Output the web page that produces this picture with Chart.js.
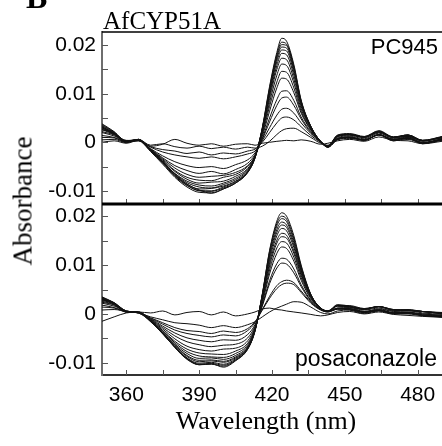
<!DOCTYPE html>
<html>
<head>
<meta charset="utf-8">
<script src="https://cdn.jsdelivr.net/npm/chart.js@4.4.1/dist/chart.umd.min.js"></script>
<style>
  body { margin: 0; background: #fff; }
  #wrap { position: relative; width: 442px; height: 446px; overflow: hidden; background: #fff; }
  canvas { position: absolute; left: 0; }
  .txt { position: absolute; white-space: nowrap; line-height: 1; color: #000; }
  .serif { font-family: "Liberation Serif", "Times New Roman", serif; }
  .sans { font-family: "Liberation Sans", Arial, sans-serif; }
</style>
</head>
<body>
<div id="wrap">
  <canvas id="topChart" width="442" height="205" style="top:0;width:442px;height:205px"></canvas>
  <canvas id="botChart" width="442" height="242" style="top:204px;width:442px;height:242px"></canvas>
  <div class="txt serif" style="left:26px;top:-19px;font-size:32px;font-weight:bold">B</div>
  <div class="txt serif" style="left:103px;top:8px;font-size:25px">AfCYP51A</div>
  <div class="txt sans" style="right:4px;top:36px;font-size:22px">PC945</div>
  <div class="txt sans" style="right:5px;top:347px;font-size:23px">posaconazole</div>
  <div class="txt serif" style="left:266px;top:408px;font-size:26px;transform:translateX(-50%)">Wavelength (nm)</div>
  <div class="txt serif" style="left:23px;top:201px;font-size:27px;transform:translate(-50%,-50%) rotate(-90deg)">Absorbance</div>
</div>
<script>
// wavelength grid (nm) shared by every spectrum
const wavelengths = [350,355,360,365,370,375,380,385,390,395,400,405,410,413,416,419,422,424,426,429,432,436,440,443,447,452,458,464,470,476,482,490];

// axis ticks
const xTicks = [360,375,390,405,420,435,450,465,480];
const xTickLabels = ['360','','390','','420','','450','','480'];
const yTicks = [-0.01,-0.005,0,0.005,0.01,0.015,0.02];
const yTickLabels = ['-0.01','','0','','0.01','','0.02'];

// PC945 titration, difference spectra in mAbs
const pc1  = [0.0,0.3,-0.2,0.4,-0.8,-0.4,0.6,-0.2,-0.6,-0.3,-0.8,-0.4,-0.3,-0.6,-0.2,0.0,0.2,0.3,0.4,0.3,0.5,0.2,-0.4,-0.2,0.3,0.6,0.2,1.1,0.4,0.3,-0.3,0.2];
const pc2  = [0.5,0.6,-0.1,0.6,-0.6,-0.3,-0.9,-1.2,-0.8,-1.3,-1.0,-1.4,-1.0,-1.2,-0.8,0.2,1.6,2.4,2.8,2.9,2.2,1.0,-0.2,-0.6,0.8,1.0,0.4,1.6,0.5,1.1,0.0,0.7];
const pc3  = [1.0,0.9,0.0,0.3,-0.9,-1.5,-1.8,-2.3,-2.0,-2.6,-2.2,-2.4,-1.8,-1.4,0.0,2.0,4.0,5.0,5.2,4.6,3.2,1.4,0.0,-0.7,1.2,1.5,0.9,2.1,1.0,1.2,0.3,1.1];
const pc4  = [1.4,1.0,0.1,0.5,-1.0,-2.0,-2.6,-3.0,-3.3,-3.0,-3.4,-3.0,-2.4,-1.8,0.3,3.0,5.6,6.8,7.0,6.0,4.0,1.8,0.1,-0.8,0.5,0.8,0.5,1.5,0.3,0.6,-0.2,0.4];
const pc5  = [2.0,1.3,0.2,0.6,-1.3,-2.8,-4.0,-4.8,-5.2,-5.0,-5.4,-4.6,-3.6,-2.2,0.6,4.2,7.6,9.1,9.3,7.6,4.8,2.0,0.2,-0.8,1.3,1.7,1.0,2.2,1.1,1.5,0.4,1.1];
const pc6  = [2.2,1.5,0.0,0.4,-1.4,-3.2,-4.8,-5.8,-6.4,-6.0,-6.5,-5.6,-4.3,-2.5,0.8,5.0,8.8,10.5,10.6,8.6,5.2,2.2,0.1,-1.0,0.6,0.9,0.4,1.6,0.3,0.8,-0.2,0.5];
const pc7  = [2.6,1.6,0.3,0.5,-1.5,-3.4,-5.3,-6.6,-7.2,-7.0,-6.8,-6.2,-4.8,-2.8,1.2,6.4,11.2,13.2,13.0,10.2,6.0,2.5,0.2,-0.9,1.4,1.6,1.1,2.2,1.0,1.5,0.4,1.0];
const pc8  = [2.8,1.7,0.1,0.6,-1.6,-3.6,-5.8,-7.2,-7.8,-7.9,-7.2,-6.6,-5.0,-2.8,1.6,7.4,12.4,14.6,14.4,11.2,6.4,2.6,0.1,-1.0,0.7,1.1,0.4,1.6,0.6,0.8,-0.1,0.6];
const pc9  = [3.0,1.8,0.2,0.4,-1.5,-3.8,-6.0,-7.6,-8.4,-8.2,-8.0,-7.0,-5.4,-2.9,2.0,8.2,13.8,16.1,15.8,12.2,6.9,2.8,0.2,-0.9,1.3,1.5,1.1,2.0,1.0,1.4,0.2,1.1];
const pc10 = [2.6,1.9,0.3,0.6,-1.7,-4.0,-6.4,-8.0,-8.8,-9.0,-8.4,-7.4,-5.6,-3.0,2.2,9.0,15.0,17.3,17.0,13.0,7.4,2.9,0.1,-1.0,0.6,1.0,0.5,1.5,0.5,0.9,-0.2,0.6];
const pc11 = [3.4,2.0,0.1,0.5,-1.6,-4.1,-6.5,-8.3,-9.2,-9.4,-8.7,-7.7,-5.8,-3.0,2.5,9.6,15.8,18.3,18.0,13.8,7.8,3.0,0.2,-0.8,1.5,1.8,1.2,2.4,1.1,1.5,0.4,1.2];
const pc12 = [3.0,1.7,0.4,0.3,-1.8,-4.3,-6.8,-8.6,-9.6,-9.5,-9.0,-8.0,-6.0,-3.1,2.6,10.0,16.6,19.0,18.8,14.4,8.0,3.1,0.1,-0.9,0.8,1.0,0.5,1.6,0.6,1.0,-0.2,0.5];
const pc13 = [3.6,2.1,0.2,0.6,-1.7,-4.2,-7.0,-8.9,-9.9,-10.0,-9.2,-8.1,-6.1,-3.2,2.7,10.4,17.2,19.6,19.4,14.9,8.3,3.2,0.2,-1.0,1.2,1.6,1.1,2.2,1.0,1.3,0.3,1.0];
const pc14 = [3.2,1.9,0.3,0.4,-1.9,-4.5,-7.2,-9.2,-10.3,-10.4,-9.6,-8.4,-6.2,-3.2,2.8,10.8,17.6,20.1,19.9,15.3,8.4,3.3,0.1,-0.9,0.7,1.1,0.4,1.5,0.6,0.8,-0.3,0.6];
const pc15 = [3.8,2.2,0.1,0.5,-1.6,-4.0,-6.8,-8.8,-10.0,-10.1,-9.4,-8.3,-6.1,-3.1,2.9,11.2,18.0,20.6,20.2,15.6,8.5,3.2,0.2,-0.8,1.4,1.6,1.1,2.3,1.0,1.5,0.3,0.9];
const pc16 = [3.2,1.8,0.2,0.5,-1.6,-4.0,-6.6,-8.6,-9.8,-10.5,-9.6,-8.4,-6.2,-3.2,3.0,11.5,18.5,21.4,20.8,16.0,8.7,3.3,0.2,-0.9,1.0,1.3,0.7,1.9,0.8,1.2,-0.1,0.8];

// posaconazole titration, difference spectra in mAbs
const pz1  = [-1.5,-0.6,0.2,0.4,0.2,0.6,-0.2,0.3,0.5,-0.2,0.4,-0.4,0.0,0.4,1.0,1.2,0.9,0.8,0.6,0.4,0.2,-0.1,-0.4,-0.2,0.3,0.5,0.0,0.4,-0.1,-0.3,-0.5,-0.7];
const pz2  = [0.8,0.9,0.5,0.2,-0.6,-1.2,-1.8,-2.0,-2.3,-2.8,-2.4,-2.8,-2.2,-1.6,-0.6,0.4,1.2,1.6,2.0,2.5,2.4,1.4,0.3,0.0,0.6,0.8,0.3,0.7,0.2,0.1,-0.2,-0.4];
const pz3  = [1.4,1.2,0.4,0.3,-0.8,-1.8,-2.8,-3.4,-3.6,-4.0,-3.5,-3.8,-3.0,-1.6,0.8,3.2,5.2,6.0,6.3,6.0,4.4,2.2,0.8,0.4,1.0,1.1,0.5,0.9,0.3,0.3,0.0,-0.3];
const pz4  = [1.8,1.3,0.5,0.2,-0.9,-2.1,-3.3,-4.0,-4.4,-4.7,-4.3,-4.5,-3.4,-1.8,0.9,3.6,5.8,6.6,6.9,6.4,4.7,2.4,0.9,0.5,1.6,1.4,1.0,1.5,0.8,0.6,0.5,0.2];
const pz5  = [2.2,1.6,0.6,0.3,-1.0,-2.5,-3.9,-4.9,-5.4,-5.7,-5.3,-5.4,-4.2,-2.2,1.6,6.2,9.4,10.4,10.2,8.4,5.6,2.6,0.9,0.4,1.2,1.3,0.5,1.0,0.5,0.4,0.0,-0.3];
const pz6  = [2.4,1.8,0.4,0.4,-1.1,-2.8,-4.5,-5.7,-6.3,-6.7,-6.4,-6.2,-4.9,-2.5,1.8,6.8,10.3,11.4,11.2,9.2,6.0,2.8,1.0,0.5,1.8,1.5,1.0,1.5,0.8,0.9,0.5,0.2];
const pz7  = [2.6,1.9,0.5,0.2,-1.2,-3.1,-5.1,-6.6,-7.3,-7.6,-7.2,-7.0,-5.5,-2.8,2.2,8.2,12.4,13.7,13.4,10.8,6.9,3.1,1.1,0.5,1.0,0.8,0.1,0.6,0.0,0.0,-0.4,-0.6];
const pz8  = [2.8,2.0,0.4,0.3,-1.3,-3.4,-5.6,-7.2,-8.0,-8.2,-8.3,-7.6,-6.0,-3.0,2.6,9.0,13.5,14.8,14.5,11.6,7.4,3.3,1.2,0.6,1.7,1.7,1.1,1.5,0.9,0.7,0.5,0.1];
const pz9  = [3.0,2.1,0.6,0.3,-1.3,-3.5,-5.9,-7.7,-8.6,-8.8,-8.9,-8.1,-6.3,-3.1,3.0,9.8,14.5,15.8,15.5,12.4,7.9,3.5,1.1,0.5,1.1,0.9,0.3,0.7,0.1,0.2,-0.3,-0.5];
const pz10 = [2.9,2.2,0.5,0.4,-1.4,-3.7,-6.2,-8.1,-9.1,-9.0,-9.3,-8.5,-6.6,-3.2,3.2,10.4,15.1,16.5,16.1,12.9,8.2,3.6,1.2,0.6,1.7,1.5,1.1,1.5,0.9,0.8,0.5,0.3];
const pz11 = [3.1,2.1,0.4,0.3,-1.4,-3.8,-6.4,-8.5,-9.5,-9.4,-9.7,-8.8,-6.8,-3.3,3.5,11.0,16.0,17.5,17.0,13.6,8.6,3.7,1.1,0.5,1.0,1.0,0.3,0.7,0.1,0.2,-0.3,-0.6];
const pz12 = [3.3,2.3,0.6,0.2,-1.5,-3.9,-6.5,-8.7,-9.8,-9.6,-9.9,-9.0,-6.9,-3.3,3.7,11.6,16.7,18.2,17.7,14.1,8.9,3.8,1.2,0.6,1.9,1.6,0.9,1.5,0.8,0.8,0.5,0.1];
const pz13 = [3.4,2.2,0.5,0.3,-1.4,-4.0,-6.7,-9.0,-10.1,-9.9,-10.3,-9.2,-7.0,-3.4,3.8,12.0,17.3,18.8,18.2,14.6,9.2,3.9,1.1,0.5,1.1,1.0,0.4,0.7,0.2,0.2,-0.3,-0.5];
const pz14 = [3.0,2.1,0.4,0.4,-1.5,-4.1,-6.8,-9.1,-10.3,-10.1,-10.5,-9.4,-7.1,-3.4,3.9,12.4,18.0,19.5,18.9,15.1,9.5,3.9,1.2,0.6,1.7,1.6,1.0,1.5,0.8,0.8,0.5,0.0];
const pz15 = [3.5,2.3,0.6,0.3,-1.6,-4.0,-6.9,-9.3,-10.4,-10.3,-10.7,-9.5,-7.2,-3.5,4.0,12.8,18.5,20.0,19.4,15.5,9.7,4.0,1.2,0.5,1.2,1.1,0.4,0.8,0.2,0.3,-0.2,-0.6];
const pz16 = [3.2,2.2,0.5,0.3,-1.5,-4.0,-6.8,-9.2,-10.4,-10.2,-10.9,-9.6,-7.2,-3.5,4.0,13.0,19.0,20.7,20.0,16.0,10.0,4.0,1.2,0.6,1.6,1.4,0.8,1.2,0.6,0.7,0.2,-0.1];

const pc945Spectra = [pc1,pc2,pc3,pc4,pc5,pc6,pc7,pc8,pc9,pc10,pc11,pc12,pc13,pc14,pc15,pc16];
const posaSpectra = [pz1,pz2,pz3,pz4,pz5,pz6,pz7,pz8,pz9,pz10,pz11,pz12,pz13,pz14,pz15,pz16];

Chart.defaults.font.family = '"Liberation Sans", Arial, sans-serif';
Chart.defaults.color = '#000';

// mAbs -> absorbance points
const toDataset = spec => ({
  data: wavelengths.map((w, i) => ({ x: w, y: spec[i] / 1000 })),
  borderColor: '#111',
  borderWidth: 1,
  pointRadius: 0,
  cubicInterpolationMode: 'monotone',
  fill: false
});

// inward tick marks plus the panel frame lines
const frame = {
  id: 'frame',
  afterDraw(chart, args, opts) {
    const { ctx, chartArea: a, scales: { x, y } } = chart;
    ctx.save();
    ctx.strokeStyle = '#555';
    ctx.lineWidth = 1;
    ctx.beginPath();
    yTicks.forEach(v => {
      const py = Math.round(y.getPixelForValue(v)) + 0.5;
      ctx.moveTo(a.left, py);
      ctx.lineTo(a.left + 6, py);
    });
    xTicks.forEach(v => {
      const px = Math.round(x.getPixelForValue(v)) + 0.5;
      ctx.moveTo(px, a.bottom);
      ctx.lineTo(px, a.bottom - 5);
    });
    ctx.stroke();
    ctx.strokeStyle = '#000';
    if (opts.top) {
      ctx.lineWidth = opts.top;
      ctx.beginPath();
      ctx.moveTo(a.left, a.top);
      ctx.lineTo(a.right, a.top);
      ctx.stroke();
    }
    if (opts.bottom) {
      ctx.lineWidth = opts.bottom;
      ctx.beginPath();
      ctx.moveTo(a.left, a.bottom);
      ctx.lineTo(a.right, a.bottom);
      ctx.stroke();
    }
    ctx.restore();
  }
};

// fixed-size axes, no label overflow padding
const yAxis = (min, max) => ({
  type: 'linear',
  min: min,
  max: max,
  afterBuildTicks: s => { s.ticks = yTicks.map(v => ({ value: v })); },
  afterFit: s => { s.width = 102; s.paddingTop = 0; s.paddingBottom = 0; },
  grid: { display: false, drawTicks: false },
  border: { display: true, color: '#6e6e6e', width: 2 },
  ticks: {
    padding: 6,
    color: '#000',
    font: { size: 21 },
    callback: (v, i) => yTickLabels[i]
  }
});

const topChart = new Chart(document.getElementById('topChart'), {
  type: 'line',
  data: { datasets: pc945Spectra.map(toDataset) },
  options: {
    responsive: false,
    animation: false,
    layout: { autoPadding: false, padding: { top: 32, bottom: 1, left: 0, right: 0 } },
    plugins: {
      legend: { display: false },
      tooltip: { enabled: false },
      frame: { top: 1.5, bottom: 3 }
    },
    scales: {
      x: { type: 'linear', min: 350, max: 490, display: false },
      y: yAxis(-0.0127, 0.0227)
    }
  },
  plugins: [frame]
});

const botChart = new Chart(document.getElementById('botChart'), {
  type: 'line',
  data: { datasets: posaSpectra.map(toDataset) },
  options: {
    responsive: false,
    animation: false,
    layout: { autoPadding: false, padding: { top: 0, bottom: 0, left: 0, right: 0 } },
    plugins: {
      legend: { display: false },
      tooltip: { enabled: false },
      frame: { top: 3 }
    },
    scales: {
      x: {
        type: 'linear',
        min: 350,
        max: 490,
        afterBuildTicks: s => { s.ticks = xTicks.map(v => ({ value: v })); },
        afterFit: s => { s.height = 71; s.paddingLeft = 0; s.paddingRight = 0; },
        grid: { display: false, drawTicks: false },
        border: { display: true, color: '#333', width: 2 },
        ticks: {
          autoSkip: false,
          maxRotation: 0,
          padding: 8,
          color: '#000',
          font: { size: 21 },
          callback: (v, i) => xTickLabels[i]
        }
      },
      y: yAxis(-0.0125, 0.0225)
    }
  },
  plugins: [frame]
});
</script>
</body>
</html>
